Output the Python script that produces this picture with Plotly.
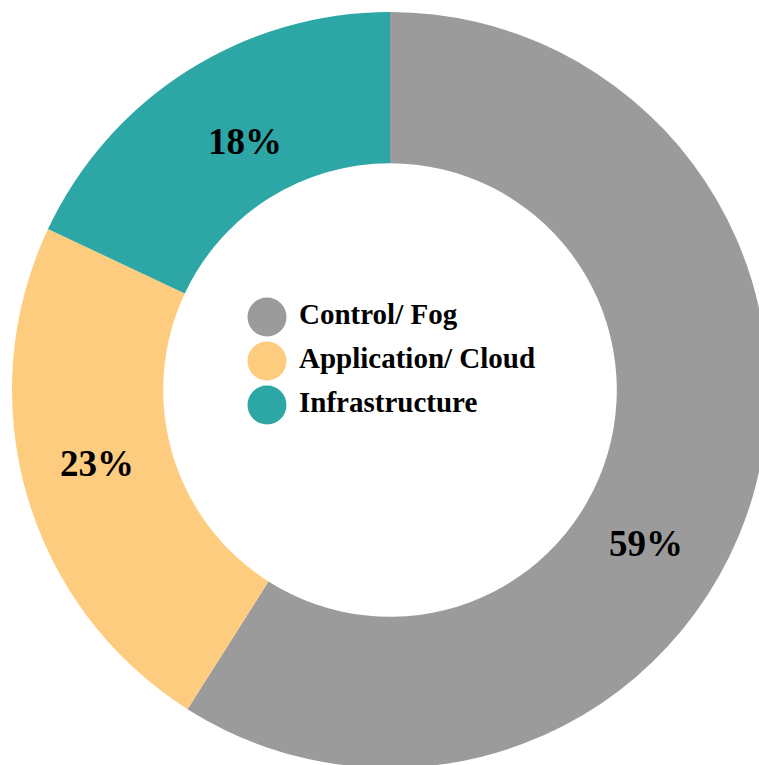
import plotly.graph_objects as go

# ---- data ----
categories = ["Control/ Fog", "Application/ Cloud", "Infrastructure"]
values = [59, 23, 18]
colors = ["#9B9B9B", "#FECC7E", "#2DA6A6"]

# ---- layout constants ----
W = H = 770
FONT = "Liberation Serif"
# label anchor points (pixels from top-left) for the percentage labels
label_px = [(646, 543), (97, 463), (245, 142)]

fig = go.Figure()

fig.add_trace(go.Pie(
    labels=categories,
    values=values,
    marker=dict(colors=colors, line=dict(width=0)),
    hole=0.6,
    sort=False,
    direction="clockwise",
    rotation=0,
    textinfo="none",
    domain=dict(x=[12 / W, 768 / W], y=[1 - 768 / H, 1 - 12 / H]),
    showlegend=False,
    hoverinfo="label+percent",
))

# percentage labels
for v, (px, py) in zip(values, label_px):
    fig.add_annotation(
        x=px / W, y=1 - py / H, xref="paper", yref="paper",
        text=f"{v}%", showarrow=False,
        xanchor="center", yanchor="middle",
        font=dict(family=FONT, size=37, color="black", weight="bold"),
    )

# custom legend inside the hole: large round markers + labels
rows = list(range(len(categories)))
fig.add_trace(go.Scatter(
    x=[0] * len(categories), y=rows,
    mode="markers",
    marker=dict(size=39, color=colors, line=dict(width=0)),
    showlegend=False, hoverinfo="skip",
    xaxis="x", yaxis="y",
))
fig.add_trace(go.Scatter(
    x=[32] * len(categories), y=rows,
    mode="text",
    text=categories,
    textposition="middle right",
    textfont=dict(family=FONT, size=29, color="black", weight="bold"),
    showlegend=False, hoverinfo="skip",
    xaxis="x", yaxis="y",
))

row_px = 44
first_row_px = 317
marker_x_px = 267
span = H / row_px
r_top = -first_row_px / row_px

fig.update_layout(
    width=W, height=H,
    margin=dict(l=0, r=0, t=0, b=0),
    paper_bgcolor="white",
    plot_bgcolor="rgba(0,0,0,0)",
    xaxis=dict(range=[-marker_x_px, W - marker_x_px], domain=[0, 1],
               visible=False, fixedrange=True),
    yaxis=dict(range=[r_top + span, r_top], domain=[0, 1],
               visible=False, fixedrange=True),
    showlegend=False,
)

fig.write_html(
    "out.html",
    config={"displayModeBar": False},
    post_script="document.body.style.margin='0';document.body.style.overflow='hidden';",
)
